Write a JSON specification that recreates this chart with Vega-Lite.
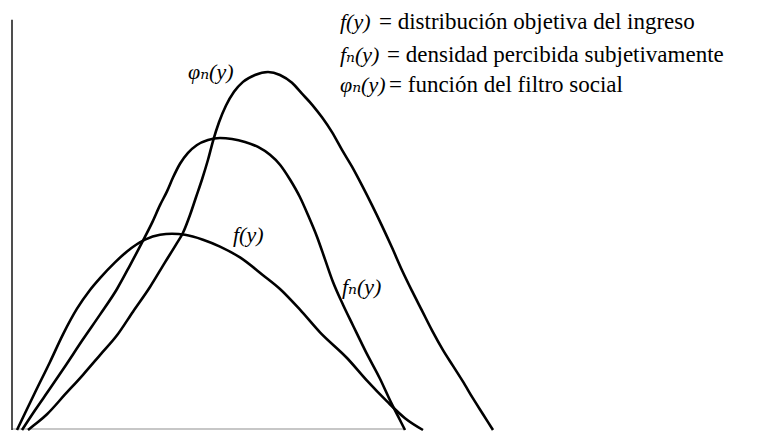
{
  "$schema": "https://vega.github.io/schema/vega-lite/v6.json",
  "width": 759,
  "height": 436,
  "autosize": {"type": "fit", "contains": "padding"},
  "padding": 0,
  "background": "white",
  "config": {"view": {"stroke": null}},
  "datasets": {
    "curvas": [
      {"serie": "f", "x": 17, "y": 0}, {"serie": "f", "x": 25, "y": 17}, {"serie": "f", "x": 35, "y": 38},
      {"serie": "f", "x": 50, "y": 69}, {"serie": "f", "x": 63, "y": 97}, {"serie": "f", "x": 77, "y": 123},
      {"serie": "f", "x": 90, "y": 142}, {"serie": "f", "x": 100, "y": 154}, {"serie": "f", "x": 115, "y": 170},
      {"serie": "f", "x": 127, "y": 181}, {"serie": "f", "x": 145, "y": 193}, {"serie": "f", "x": 160, "y": 198},
      {"serie": "f", "x": 172, "y": 199}, {"serie": "f", "x": 185, "y": 198}, {"serie": "f", "x": 203, "y": 193},
      {"serie": "f", "x": 220, "y": 186}, {"serie": "f", "x": 240, "y": 175}, {"serie": "f", "x": 263, "y": 157},
      {"serie": "f", "x": 280, "y": 143}, {"serie": "f", "x": 300, "y": 122}, {"serie": "f", "x": 320, "y": 99},
      {"serie": "f", "x": 347, "y": 73}, {"serie": "f", "x": 367, "y": 50}, {"serie": "f", "x": 387, "y": 29},
      {"serie": "f", "x": 405, "y": 12}, {"serie": "f", "x": 423, "y": 0},

      {"serie": "fn", "x": 22, "y": 0}, {"serie": "fn", "x": 35, "y": 20}, {"serie": "fn", "x": 50, "y": 42},
      {"serie": "fn", "x": 66, "y": 66}, {"serie": "fn", "x": 83, "y": 92}, {"serie": "fn", "x": 100, "y": 117},
      {"serie": "fn", "x": 117, "y": 143}, {"serie": "fn", "x": 130, "y": 167}, {"serie": "fn", "x": 143, "y": 192},
      {"serie": "fn", "x": 152, "y": 210}, {"serie": "fn", "x": 160, "y": 228}, {"serie": "fn", "x": 167, "y": 242},
      {"serie": "fn", "x": 173, "y": 256}, {"serie": "fn", "x": 180, "y": 270}, {"serie": "fn", "x": 188, "y": 281},
      {"serie": "fn", "x": 197, "y": 289}, {"serie": "fn", "x": 208, "y": 294}, {"serie": "fn", "x": 220, "y": 296},
      {"serie": "fn", "x": 232, "y": 295}, {"serie": "fn", "x": 245, "y": 292}, {"serie": "fn", "x": 258, "y": 287},
      {"serie": "fn", "x": 270, "y": 279}, {"serie": "fn", "x": 280, "y": 269}, {"serie": "fn", "x": 290, "y": 254},
      {"serie": "fn", "x": 300, "y": 236}, {"serie": "fn", "x": 308, "y": 218}, {"serie": "fn", "x": 317, "y": 196},
      {"serie": "fn", "x": 325, "y": 173}, {"serie": "fn", "x": 333, "y": 150}, {"serie": "fn", "x": 343, "y": 127},
      {"serie": "fn", "x": 353, "y": 106}, {"serie": "fn", "x": 366, "y": 79}, {"serie": "fn", "x": 380, "y": 52},
      {"serie": "fn", "x": 391, "y": 28}, {"serie": "fn", "x": 398, "y": 14}, {"serie": "fn", "x": 405, "y": 0},

      {"serie": "phin", "x": 28, "y": 0}, {"serie": "phin", "x": 38, "y": 8}, {"serie": "phin", "x": 47, "y": 16},
      {"serie": "phin", "x": 65, "y": 36}, {"serie": "phin", "x": 83, "y": 56}, {"serie": "phin", "x": 100, "y": 76},
      {"serie": "phin", "x": 117, "y": 96}, {"serie": "phin", "x": 133, "y": 120}, {"serie": "phin", "x": 150, "y": 145},
      {"serie": "phin", "x": 165, "y": 170}, {"serie": "phin", "x": 176, "y": 188}, {"serie": "phin", "x": 183, "y": 200},
      {"serie": "phin", "x": 190, "y": 218}, {"serie": "phin", "x": 196, "y": 236}, {"serie": "phin", "x": 202, "y": 254},
      {"serie": "phin", "x": 208, "y": 274}, {"serie": "phin", "x": 213, "y": 293}, {"serie": "phin", "x": 219, "y": 312},
      {"serie": "phin", "x": 226, "y": 329}, {"serie": "phin", "x": 234, "y": 343}, {"serie": "phin", "x": 243, "y": 353},
      {"serie": "phin", "x": 255, "y": 360}, {"serie": "phin", "x": 268, "y": 363}, {"serie": "phin", "x": 280, "y": 360},
      {"serie": "phin", "x": 292, "y": 352}, {"serie": "phin", "x": 302, "y": 341}, {"serie": "phin", "x": 312, "y": 330},
      {"serie": "phin", "x": 322, "y": 317}, {"serie": "phin", "x": 332, "y": 302}, {"serie": "phin", "x": 342, "y": 284},
      {"serie": "phin", "x": 352, "y": 267}, {"serie": "phin", "x": 362, "y": 248}, {"serie": "phin", "x": 372, "y": 228},
      {"serie": "phin", "x": 382, "y": 207}, {"serie": "phin", "x": 392, "y": 185}, {"serie": "phin", "x": 402, "y": 162},
      {"serie": "phin", "x": 412, "y": 141}, {"serie": "phin", "x": 422, "y": 121}, {"serie": "phin", "x": 432, "y": 101},
      {"serie": "phin", "x": 443, "y": 81}, {"serie": "phin", "x": 453, "y": 65}, {"serie": "phin", "x": 463, "y": 49},
      {"serie": "phin", "x": 473, "y": 32}, {"serie": "phin", "x": 483, "y": 16}, {"serie": "phin", "x": 493, "y": 0}
    ],
    "eje_vertical": [{"x": 12, "y": 0, "y2": 416}],
    "eje_horizontal": [{"x": 12, "x2": 405, "y": 1}],
    "textos": [
      {"texto": "φₙ(y)", "x": 188, "y": 356, "estilo": "italic"},
      {"texto": "f(y)", "x": 233, "y": 191, "estilo": "italic"},
      {"texto": "fₙ(y)", "x": 342, "y": 138, "estilo": "italic"},

      {"texto": "f(y)", "x": 340, "y": 407, "estilo": "italic"},
      {"texto": "= distribución objetiva del ingreso", "x": 379, "y": 407, "estilo": "normal"},

      {"texto": "fₙ(y)", "x": 340, "y": 373, "estilo": "italic"},
      {"texto": "= densidad percibida subjetivamente", "x": 387, "y": 373, "estilo": "normal"},

      {"texto": "φₙ(y)", "x": 340, "y": 343, "estilo": "italic"},
      {"texto": "= función del filtro social", "x": 389, "y": 343, "estilo": "normal"}
    ]
  },
  "encoding": {
    "x": {"field": "x", "type": "quantitative", "scale": {"domain": [0, 759], "nice": false, "zero": false}, "axis": null},
    "y": {"field": "y", "type": "quantitative", "scale": {"domain": [0, 436], "nice": false, "zero": false}, "axis": null}
  },
  "layer": [
    {
      "data": {"name": "eje_horizontal"},
      "mark": {"type": "rule", "color": "#b5b5b5", "strokeWidth": 1.5},
      "encoding": {"x2": {"field": "x2"}}
    },
    {
      "data": {"name": "eje_vertical"},
      "mark": {"type": "rule", "color": "#222222", "strokeWidth": 1.6},
      "encoding": {"y2": {"field": "y2"}}
    },
    {
      "data": {"name": "curvas"},
      "mark": {"type": "line", "interpolate": "monotone", "color": "black", "strokeWidth": 2.6},
      "encoding": {"detail": {"field": "serie", "type": "nominal"}}
    },
    {
      "data": {"name": "textos"},
      "transform": [{"filter": "datum.estilo === 'italic'"}],
      "mark": {"type": "text", "font": "Liberation Serif, DejaVu Serif, serif", "fontSize": 22, "fontStyle": "italic", "align": "left", "baseline": "alphabetic", "color": "black"},
      "encoding": {"text": {"field": "texto", "type": "nominal"}}
    },
    {
      "data": {"name": "textos"},
      "transform": [{"filter": "datum.estilo === 'normal'"}],
      "mark": {"type": "text", "font": "Liberation Serif, DejaVu Serif, serif", "fontSize": 23, "align": "left", "baseline": "alphabetic", "color": "black"},
      "encoding": {"text": {"field": "texto", "type": "nominal"}}
    }
  ]
}
